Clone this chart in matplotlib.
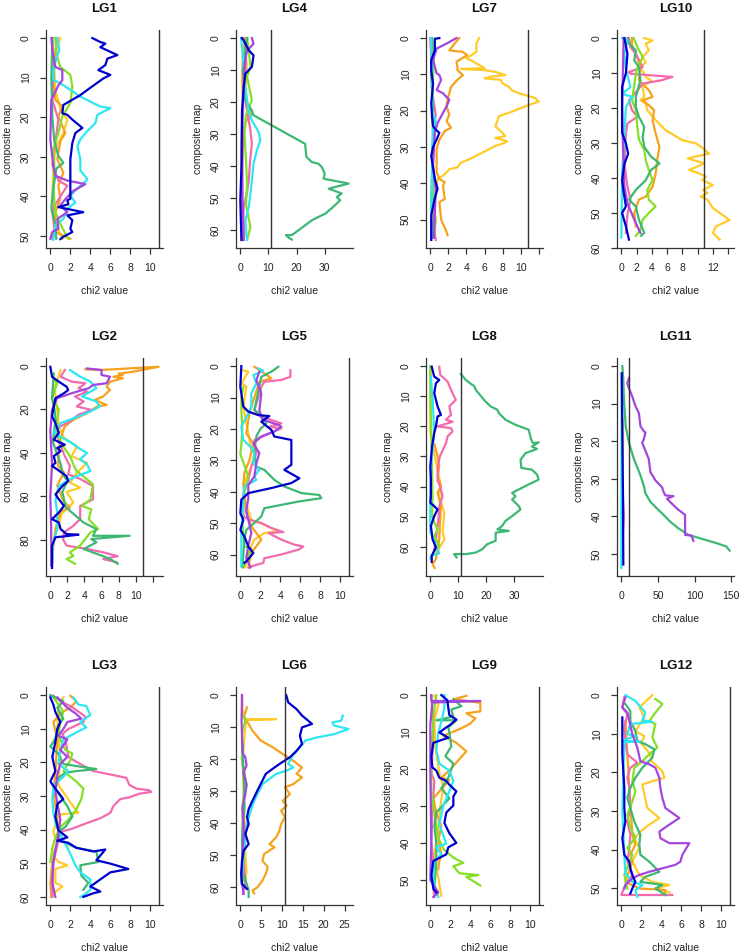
import numpy as np
import matplotlib
matplotlib.use("Agg")
import matplotlib.pyplot as plt

plt.rcParams["font.family"] = ["Liberation Sans", "DejaVu Sans"]
plt.rcParams["font.stretch"] = "normal"

THRESHOLD = 10.83

COLORS = {
    "blue": "#0000CD", "cyan": "#2EE6F2", "seagreen": "#3DB873", "pink": "#F26BAE",
    "orange": "#F5A21E", "gold": "#FFCB2A", "purple": "#A446DE", "lime": "#84E025",
}
DRAW_ORDER = ["gold", "orange", "pink", "lime", "seagreen", "cyan", "purple", "blue"]

# each line: (map position, chi2 value)
# ---- LG1
lg1_blue = [(0, 4.2), (1, 5.0), (1.4, 5.5), (2.3, 5.0), (4.3, 6.7), (5.2, 5.7), (6.8, 5.5), (8.1, 4.8),
            (9.3, 6.0), (10.2, 5.3), (13.1, 3.7), (14.4, 3.0), (16.9, 1.3), (19.0, 1.2), (19.4, 1.7),
            (20.6, 2.2), (22.7, 3.2), (24.0, 2.5), (26.5, 2.2), (30.6, 2.0), (35.6, 2.0), (40.6, 2.0),
            (41.0, 1.7), (42.0, 1.8), (42.7, 0.8), (44.0, 3.3), (44.8, 1.7), (46.0, 2.2), (48.2, 2.0),
            (49.0, 2.2), (50.2, 1.3), (50.8, 1.0)]
lg1_cyan = [(0, 0.7), (3, 0.9), (6, 0.5), (8.5, 0.3), (10.5, 0.3), (11.9, 1.3), (14.8, 3.0), (17.3, 5.0),
            (17.7, 6.0), (19.4, 4.7), (21.5, 4.5), (23.5, 3.7), (25.6, 3.0), (27.3, 2.7), (30.6, 3.0),
            (33.5, 3.0), (35.6, 3.7), (36.0, 3.6), (37.3, 3.0), (39.8, 2.0), (41.5, 2.5), (43.2, 1.7),
            (45.7, 1.3), (47.3, 0.5), (49.0, 0.4), (51.0, 0.3)]
lg1_purple = [(0, 0.1), (3, 0.2), (7.3, 0.5), (8.1, 1.2), (10.6, 1.2), (12, 0.8), (15.6, 0.1), (25.6, 0.0),
              (32.3, 0.3), (34.8, 0.5), (36, 1.7), (36.9, 3.5), (38.6, 2.3), (40.7, 1.5), (42.3, 1.0),
              (44, 1.7), (45.7, 0.7), (48.2, 0.8), (49, 0.2), (50.7, 0.0)]
lg1_lime = [(0, 0.5), (4, 0.6), (7.3, 1.0), (9.3, 2.0), (12.3, 2.2), (16.4, 2.0), (19.8, 1.2), (24, 0.8),
            (28.1, 0.3), (32, 0.4), (38, 0.3), (44, 0.5), (48, 1.2), (50.7, 1.8)]
lg1_orange = [(0, 0.7), (5, 0.4), (11.4, 0.3), (15.6, 0.5), (17.3, 1.2), (19.8, 0.8), (24, 1.5), (26, 1.0),
              (30.6, 0.7), (34, 1.3), (37.3, 0.8), (40.6, 1.0), (44, 0.5), (49, 0.5), (50.7, 2.0)]
lg1_gold = [(0, 1.0), (3, 0.6), (8, 0.4), (13, 0.5), (18, 1.0), (20.6, 1.7), (24, 1.3), (28, 0.5),
            (33, 0.3), (40, 0.2), (46, 0.4), (50.7, 1.2)]
lg1_pink = [(0, 0.2), (7.3, 0.3), (15.6, 0.2), (20.6, 0.8), (26.5, 0.5), (32, 0.2), (36, 0.8), (37.3, 1.7),
            (40, 1.0), (42.5, 0.4), (44, 0.2), (48, 0.4), (50.7, 0.2)]
lg1_seagreen = [(0, 0.2), (10, 0.1), (20, 0.2), (26, 0.4), (29.8, 0.8), (31.5, 1.3), (33, 0.6), (38, 0.3),
                (43, 0.1), (47, 0.5), (50.7, 0.6)]

# ---- LG4
lg4_seagreen = [(0, 2.5), (5, 1.5), (10, 0.8), (15, 1.5), (19.4, 1.8), (22.6, 4.1), (24.1, 4.7), (33, 23.0),
                (37.1, 23.5), (38.7, 25.4), (39.2, 27.7), (40.2, 28.9), (42.3, 30.0), (43.9, 29.6),
                (45.4, 38.5), (47, 31.4), (48.5, 36.0), (49.6, 34.3), (50.6, 35.5), (52.7, 33.0),
                (54.8, 30.2), (55.8, 27.8), (56.9, 25.4), (61.5, 18.3), (61.5, 16.2), (62.3, 17.2), (62.9, 18.3)]
lg4_cyan = [(0, 0.3), (5, 0.8), (9, 1.2), (14, 1.5), (19.4, 2.4), (22.6, 3.0), (25.7, 4.1), (29.3, 6.5),
            (31.9, 7.1), (35, 5.9), (39.2, 4.7), (44.4, 4.1), (48.5, 3.6), (52.7, 3.0), (56.9, 1.8), (60, 2.0),
            (63, 2.4)]
lg4_pink = [(0, 1.2), (4, 2.0), (9, 1.8), (14, 1.2), (18, 1.5), (22.6, 2.4), (28.8, 3.6), (33, 4.1), (38, 3.5),
            (44.4, 3.0), (48, 2.4), (52.7, 1.2), (57, 1.0), (63, 1.2)]
lg4_blue = [(0, 0.5), (0.7, 1.2), (3.8, 3.0), (5.4, 4.7), (9, 4.1), (11.1, 1.8), (15.3, 1.2), (22.6, 0.6),
            (30, 0.5), (40.2, 0.4), (50.6, 0.0), (57, 0.2), (63, 0.4)]
lg4_lime = [(0, 2.4), (4, 3.0), (9, 3.6), (12, 2.4), (19.4, 4.1), (24, 2.0), (30, 1.5), (38, 2.0), (45, 2.4),
            (52, 2.0), (59, 3.6), (63, 2.4)]
lg4_purple = [(0, 4.1), (1.8, 4.7), (3.9, 2.4), (8, 1.5), (14, 1.2), (25, 0.8), (40, 0.7), (50, 0.8), (63, 1.2)]
lg4_orange = [(0, 2.0), (3, 1.5), (8, 2.2), (15, 1.8), (20, 2.3), (24, 4.0), (26, 2.0), (30, 1.0), (40, 0.6),
              (55, 0.5), (63, 0.6)]
lg4_gold = [(0, 1.6), (6, 0.8), (14, 0.6), (22, 1.0), (30, 0.5), (45, 0.3), (63, 0.4)]

# ---- LG7
lg7_gold = [(0, 5.4), (1.5, 5.1), (3.8, 5.1), (5.6, 4.0), (6.1, 4.5), (8.3, 6.0), (8.5, 3.4), (8.8, 5.9),
            (9.3, 7.2), (10.2, 8.3), (10.6, 6.7), (11.1, 6.0), (11.5, 7.8), (12.5, 8.0), (13.4, 8.7),
            (14.3, 9.0), (15.2, 9.8), (16.5, 11.6), (17.5, 12.0), (18.8, 10.5), (20.6, 8.7), (21.5, 7.6),
            (24.3, 7.2), (26.1, 8.0), (27.0, 8.3), (27.5, 7.2), (28.4, 8.5), (28.8, 8.3), (29.7, 7.2),
            (31.5, 5.8), (33.4, 4.3), (34.3, 3.4), (35.6, 3.0), (36.1, 2.1), (37.0, 1.8), (37.9, 1.4),
            (38.8, 0.8), (42, 0.6), (46, 0.5), (50, 0.5), (54, 0.4)]
lg7_orange = [(0, 3.2), (1.5, 2.7), (3.4, 2.1), (3.8, 3.6), (4.7, 4.1), (6.5, 2.9), (7.9, 3.0), (8.8, 3.0),
              (10.2, 3.6), (11.5, 3.0), (13.4, 2.3), (17, 1.9), (18.8, 1.8), (21.1, 2.1), (22.9, 1.8),
              (24.7, 2.3), (25.6, 1.6), (28, 1.0), (30.6, 0.7), (37, 0.7), (38.8, 1.0), (39.7, 1.6),
              (40.6, 1.4), (44.3, 1.6), (45.2, 1.0), (50, 1.2), (53.4, 1.8), (54.3, 1.9)]
lg7_purple = [(0, 2.9), (1.5, 1.8), (2.9, 0.7), (6, 0.3), (9.7, 0.7), (10.2, 1.0), (11.5, 1.2), (14.3, 0.7),
              (15.2, 1.4), (17, 2.1), (18.8, 1.8), (20.6, 1.4), (23.4, 0.8), (26, 0.5), (35, 0.3), (42, 0.6),
              (48, 0.5), (55, 0.4)]
lg7_blue = [(0, 1.0), (0.2, 0.5), (3.4, 0.5), (6.1, 0.1), (9, 0.1), (12.5, 0.3), (18, 0.1), (22, 0.2),
            (24.3, 0.3), (25.2, 0.6), (26.1, 1.0), (27.9, 0.7), (30, 0.3), (32.5, 0.1), (38.8, 0.5),
            (41.5, 0.8), (44, 0.5), (48.8, 0.1), (55.6, 0.1)]
lg7_cyan = [(0, 0.1), (10, 0.2), (20, 0.2), (23, 0.6), (25, 0.3), (30, 0.2), (40, 0.2), (50, 0.1), (55.6, 0.1)]
lg7_lime = [(0, 0.2), (5, 0.4), (12, 0.3), (20, 0.2), (28, 0.3), (35, 0.2), (45, 0.3), (50, 0.6), (55, 0.4)]
lg7_pink = [(0, 0.0), (5, 0.1), (15, 0.2), (21, 0.6), (25, 0.4), (35, 0.2), (45, 0.3), (52, 0.4), (55.6, 0.6)]
lg7_seagreen = [(0, 0.2), (10, 0.1), (20, 0.3), (27, 0.4), (35, 0.2), (45, 0.1), (55, 0.2)]

# ---- LG10
lg10_gold = [(0, 3.0), (0.7, 4.1), (1.6, 3.2), (3.5, 3.6), (5.4, 2.8), (7, 3.2), (8.3, 2.5), (11.1, 3.2),
             (12.1, 3.9), (14, 2.8), (16.8, 3.0), (17.8, 2.5), (18.7, 3.2), (20.6, 3.4), (23.5, 4.5),
             (26.3, 5.8), (29.2, 8.0), (30.1, 9.8), (31.5, 10.7), (33, 11.5), (34.4, 8.7), (35.8, 10.9),
             (37.7, 8.9), (38.7, 10.2), (39.6, 11.1), (40.6, 10.6), (42, 12.0), (43.4, 10.7), (44.3, 11.3),
             (45.3, 10.4), (46.2, 11.3), (48.6, 12.0), (50, 12.9), (52, 14.2), (53.8, 12.4), (55.7, 12.0),
             (57.6, 12.9)]
lg10_orange = [(0, 1.4), (2.1, 1.4), (5, 2.0), (8.3, 2.5), (12, 2.3), (14.9, 3.6), (16.8, 4.1), (17.8, 2.8),
               (19.2, 3.6), (20.6, 4.3), (23.5, 4.1), (27.3, 4.5), (31.1, 5.0), (34.9, 4.7), (38.7, 4.5),
               (42.5, 4.1), (45.3, 3.2), (46.2, 2.3), (50, 1.7), (53.8, 1.9)]
lg10_seagreen = [(0, 0.8), (1.6, 1.0), (3.5, 1.9), (6.4, 1.7), (8.3, 2.3), (12.1, 2.5), (16.8, 1.9),
                 (19.7, 1.9), (22.5, 2.3), (25.4, 3.0), (28.3, 2.8), (31.1, 3.0), (33.9, 3.9), (35.8, 5.0),
                 (37.7, 3.9), (40.6, 3.2), (43.4, 1.9), (46.2, 1.0), (48.1, 1.9), (51.9, 2.3), (55.7, 3.0),
                 (56.5, 2.6)]
lg10_lime = [(0, 1.6), (3, 2.2), (5.4, 2.8), (9, 2.0), (12, 1.8), (17.8, 1.4), (20.6, 1.9), (25.4, 2.1),
             (29, 2.3), (32, 3.0), (34.9, 3.2), (37.7, 3.6), (40.6, 4.1), (43.4, 3.4), (46.2, 3.6), (48.1, 4.5),
             (50, 3.6), (51.9, 2.8), (54.8, 2.5), (56.5, 1.9)]
lg10_pink = [(0, 1.0), (2.6, 1.2), (4.5, 1.9), (8.3, 2.8), (9.7, 1.0), (10.2, 1.2), (11.1, 6.7), (12.1, 5.2),
             (13, 2.8), (15, 2.1), (17.8, 1.0), (20.6, 1.4), (22.5, 2.1), (24.4, 0.8), (27.3, 0.6), (36, 0.4),
             (42.5, 0.8), (46.2, 1.2), (50.5, 0.8), (55.7, 0.6)]
lg10_purple = [(0, 0.3), (10, 0.2), (20, 0.1), (30, 0.2), (42.5, 0.4), (47.2, 0.8), (51.9, 1.7), (55.7, 2.5)]
lg10_blue = [(0, 0.4), (4.5, 0.8), (10, 0.6), (14, 0.1), (27, 0.1), (30.1, 0.6), (33, 0.9), (36, 0.4),
             (40.6, 0.1), (44, 0.3), (48.1, 0.6), (50, 0.1), (53.8, 0.6), (57.6, 1.0)]
lg10_cyan = [(0, 0.1), (0.7, 0.8), (4.5, 0.4), (9, 0.6), (14, 1.2), (15.9, 0.1), (16.8, 1.4), (19.7, 0.6),
             (27.3, 0.4), (38.7, 0.1), (57, 0.0)]

# ---- LG2
lg2_orange = [(1.5, 4.1), (1.8, 6.0), (0.3, 12.7), (2.6, 9.7), (3.5, 8.0), (4.1, 8.5), (4.9, 7.4), (5.6, 8.5),
              (7.2, 7.0), (9.5, 6.6), (11, 7.0), (14, 6.2), (15.6, 5.2), (17.9, 6.6), (18.6, 5.5), (21.7, 4.3),
              (24.7, 2.7), (27.8, 1.7), (33, 1.2), (40, 1.0), (46, 0.9), (49, 1.6), (55, 0.8), (62, 1.5),
              (65.2, 2.3), (67, 1.2), (75, 0.6), (85, 0.3), (92, 0.2)]
lg2_purple = [(1.1, 4.3), (1.8, 6.0), (4.1, 6.0), (4.9, 7.0), (7.9, 6.6), (8.7, 5.0), (10.2, 4.5), (12.5, 2.5),
              (14.8, 0.8), (20.2, 0.2), (30, 0.0), (45, 0.2), (60, 0.0), (75, 0.1), (92, 0.1)]
lg2_pink = [(1.8, 1.7), (4.9, 1.2), (7.2, 2.5), (7.9, 4.1), (10.2, 3.3), (11.8, 4.3), (14, 2.9), (16.3, 3.9),
            (18.6, 3.1), (20.2, 4.8), (22.4, 3.3), (25.5, 2.3), (28.5, 0.8), (35, 1.0), (41.5, 1.7), (46.1, 2.3),
            (49.9, 2.1), (52, 3.5), (55.3, 5.0), (61.4, 5.0), (64.4, 3.5), (70.5, 3.5), (73.6, 2.7),
            (76.6, 1.6), (80, 1.5), (82.7, 1.9), (84.3, 4.3), (85.8, 6.2), (87.6, 7.9), (88.9, 6.2), (90.4, 7.8)]
lg2_cyan = [(1.8, 2.3), (4.9, 3.5), (7.2, 4.7), (10.2, 5.4), (14, 3.7), (16.3, 5.4), (18.6, 5.8), (20.9, 4.7),
            (23.2, 3.3), (26.3, 1.2), (30.8, 0.4), (35.4, 2.5), (38, 3.4), (40, 4.3), (43, 3.5), (45.3, 4.3),
            (48.4, 4.7), (50.7, 3.1), (53, 1.9), (55.3, 1.0), (62, 0.6), (67, 0.8), (75, 0.8), (82, 0.3),
            (92, 0.2)]
lg2_gold = [(1.8, 1.2), (10, 0.5), (20, 0.8), (28, 1.0), (33, 1.6), (37, 3.1), (41.5, 2.5), (44.6, 4.3),
            (49.2, 3.1), (53.7, 2.3), (56, 3.5), (58, 1.9), (62.9, 2.7), (67.6, 1.4), (75, 0.8), (80, 0.4)]
lg2_lime = [(4.9, 0.2), (7.9, 0.8), (15, 0.2), (20, 1.0), (30, 0.6), (37, 1.5), (41.5, 2.3), (48, 3.0),
            (54.5, 5.0), (61.4, 4.7), (64.4, 3.7), (66, 4.8), (70.5, 4.5), (75.1, 5.6), (76.6, 4.7),
            (82.7, 3.5), (85.8, 2.3), (87.5, 2.7), (88.9, 1.9), (91.1, 2.9)]
lg2_seagreen = [(3.4, 0.4), (15, 0.2), (20, 0.5), (25, 0.6), (35, 0.3), (45, 1.2), (50, 1.5), (53, 2.0),
                (58, 1.4), (65, 1.8), (72.1, 3.9), (75.1, 5.4), (78.2, 5.0), (78.2, 9.3), (79.7, 4.8),
                (81.2, 5.4), (84.3, 3.9), (87.3, 6.0), (88.9, 7.0), (91.1, 7.9)]
lg2_blue = [(0.3, 0.0), (4.9, 0.2), (7.2, 1.0), (9.5, 1.9), (11, 2.1), (12.5, 1.6), (14.8, 0.6), (18.6, 0.4),
            (23.2, 0.2), (26.3, 0.6), (30.8, 1.0), (33.9, 0.4), (36.2, 1.7), (37.7, 0.8), (39.2, 1.2),
            (41.5, 0.4), (44.6, 0.6), (46, 0.2), (47.6, 0.8), (50.7, 1.9), (53, 2.1), (55.3, 1.4), (59.1, 0.6),
            (61.4, 1.0), (64.4, 1.6), (67.5, 1.0), (70.5, 0.2), (72.1, 1.0), (75.1, 1.2), (77.4, 1.9),
            (77.7, 3.3), (78.9, 0.6), (82.7, 0.2), (93, 0.2)]

# ---- LG5
lg5_blue = [(0, 0.1), (6.6, 0.0), (12.9, 0.3), (14.5, 0.8), (15.6, 1.8), (15.9, 2.9), (17.7, 2.1), (20.3, 3.1),
            (22.4, 3.4), (23.5, 5.1), (31.4, 5.1), (33, 4.4), (35.7, 5.9), (37.2, 5.1), (38.8, 3.1),
            (40.4, 0.8), (42.5, 0.1), (46.8, 0.0), (48.9, 0.3), (52.1, 0.0), (54.2, 0.4), (57.4, 0.8),
            (59.5, 1.3), (62.1, 0.6), (62.6, 0.4)]
lg5_seagreen = [(0.2, 3.8), (1.8, 3.1), (3.4, 2.1), (8, 1.8), (14, 1.4), (15.6, 2.1), (18.2, 2.6), (20, 2.0),
                (22.4, 1.6), (27, 1.4), (32, 1.6), (33, 2.4), (36.2, 3.4), (38.3, 4.4), (40.4, 6.1), (41, 7.9),
                (42, 8.1), (43.1, 5.8), (45.2, 2.4), (47.8, 2.1), (49.9, 1.4), (52.1, 0.6), (55.2, 0.4),
                (60, 0.3), (64, 0.2)]
lg5_pink = [(1.3, 5.0), (3.4, 5.0), (4.4, 4.1), (5, 2.4), (6.6, 2.1), (10, 1.8), (14, 1.4), (16, 2.0),
            (18.2, 4.1), (19.3, 2.9), (19.8, 4.1), (21.4, 2.9), (23.5, 1.4), (27.7, 1.6), (32, 1.1), (36.2, 0.8),
            (40.4, 0.3), (47.8, 0.3), (48.9, 0.9), (49.9, 2.1), (51.5, 3.1), (52.8, 4.3), (53.1, 2.8),
            (55.2, 4.1), (56.8, 5.4), (57.4, 6.3), (58.4, 5.8), (60, 4.0), (61.1, 2.4), (62.6, 2.3),
            (63.7, 1.1), (64.2, 0.9)]
lg5_purple = [(1.8, 1.9), (4.5, 1.6), (8.7, 2.1), (14, 1.9), (17, 2.2), (18.7, 3.8), (19.3, 4.1), (20.8, 3.4),
              (22.4, 2.1), (24.6, 1.3), (27.7, 1.9), (30.9, 1.6), (35.1, 1.4), (37.8, 0.8), (42, 0.8), (46, 0.6),
              (53.1, 1.1), (57, 0.8), (61, 0.6), (64, 1.0)]
lg5_cyan = [(0.7, 1.8), (1.5, 2.3), (2.9, 1.3), (5.5, 1.6), (8.7, 1.1), (12.9, 1.1), (15, 0.8), (19.3, 0.1),
            (23.5, 0.3), (26, 1.1), (27.7, 1.4), (30.9, 1.3), (33, 1.9), (35.1, 1.4), (36.2, 1.6), (38.3, 0.4),
            (42, 0.3), (53.1, 0.1), (63.7, 0.1)]
lg5_gold = [(1.3, 0.3), (1.8, 0.8), (5.5, 0.1), (6.5, 0.6), (13, 0.3), (21.4, 0.8), (26.7, 1.1), (27.7, 1.4),
            (32, 1.1), (37, 0.4), (42, 0.4), (48.9, 1.1), (51, 2.8), (52.6, 3.8), (53.1, 2.4), (55.2, 1.4),
            (59.4, 0.8), (64, 0.5)]
lg5_orange = [(0.2, 1.4), (3.9, 3.1), (5, 1.9), (10, 1.4), (15, 0.9), (21.4, 0.6), (24.6, 1.3), (30, 0.9),
              (34, 0.4), (38, 0.3), (46.8, 0.6), (51, 1.1), (55.2, 2.1), (59.4, 1.1), (64, 0.8)]
lg5_lime = [(6.6, 0.3), (10, 0.1), (14, 0.1), (20, 0.2), (25, 0.1), (28, 0.0), (35, 0.8), (42, 0.3), (50, 0.2),
            (57.4, 0.4), (58, 1.1), (64, 0.3)]

# ---- LG8
lg8_seagreen = [(2.6, 10.9), (4.6, 12.7), (5.9, 14.5), (6.6, 15.7), (7.9, 16.3), (11.2, 19.2), (13.4, 21.6),
                (14.5, 24.0), (15.6, 24.5), (17.8, 26.9), (19.5, 30.5), (21.1, 35.2), (24.4, 36.1),
                (25.6, 36.8), (25.3, 38.8), (26.7, 36.4), (27.5, 38.2), (28.9, 34.1), (31.1, 32.3),
                (33.8, 32.6), (34.4, 36.4), (36, 38.2), (37.7, 38.8), (39.3, 35.2), (41.5, 30.5), (42.1, 29.3),
                (43.2, 30.5), (44.3, 29.3), (46.5, 31.7), (47.6, 32.3), (49.8, 29.3), (51.4, 26.9), (53.1, 25.7),
                (54.2, 24.0), (54.7, 28.1), (55.3, 23.4), (58, 23.4), (59.1, 20.4), (60.8, 18.6), (61.9, 16.3),
                (62.4, 12.7), (62.4, 8.5), (63.5, 9.4)]
lg8_pink = [(0.2, 3.2), (3, 3.6), (4.1, 5.0), (5.2, 6.2), (7.9, 7.4), (11.2, 9.1), (13.4, 6.8), (16.2, 7.4),
            (17.8, 5.6), (18.5, 8.0), (19.5, 4.4), (20, 2.6), (20.6, 7.4), (21.7, 8.0), (23.3, 6.2), (25.6, 5.6),
            (30, 3.4), (34, 2.6), (38, 2.6), (40, 3.5), (43.2, 4.4), (46.5, 3.2), (50, 3.0), (53.1, 2.6),
            (57.5, 2.0), (61, 1.4)]
lg8_blue = [(0.2, 0.5), (3.5, 1.4), (4.6, 3.2), (5.7, 2.0), (9, 1.4), (13.4, 2.6), (16.2, 3.8), (16.7, 2.6),
            (20, 2.0), (22.2, 1.4), (26.7, 0.6), (33.3, 0.0), (37.7, 0.2), (43.2, 0.2), (45.4, 0.0), (46.5, 1.4),
            (47.6, 2.6), (49.8, 1.4), (53.1, 0.2), (57.5, 0.8), (60.2, 2.0), (63, 0.5), (65, 0.5)]
lg8_orange = [(26, 1.5), (30, 2.6), (33.3, 3.2), (36.5, 2.6), (39.9, 3.8), (42, 2.6), (46.5, 3.8), (53.1, 3.4),
              (57.5, 3.2), (61, 2.6), (64.1, 2.0), (65.7, 0.8), (67, 1.5)]
lg8_gold = [(0, 0.2), (5.7, 0.0), (22, 0.0), (29, 1.4), (39.9, 3.8), (43.2, 3.2), (48.7, 5.0), (55, 4.4),
            (57.5, 5.0), (61.5, 2.6), (62.5, 2.0)]
lg8_cyan = [(3.5, 0.2), (11, 0.8), (22, 1.4), (33, 0.2), (44, 0.0), (55, 0.0), (62.2, 3.2), (63, 0.2), (64, 0.1)]
lg8_lime = [(0, 0.0), (11, 0.1), (29, 0.5), (44, 0.8), (50, 0.6), (54.2, 2.6), (56.4, 1.4), (59.5, 3.2), (62, 1.0)]

# ---- LG11
lg11_purple = [(3.2, 10.4), (4.6, 8.1), (5.9, 10.4), (8.1, 14.9), (10.7, 19.4), (12.5, 23.9), (16, 26.1),
               (17.3, 30.6), (17.7, 32.9), (19.5, 30.6), (20.4, 28.4), (24.7, 37.4), (28.2, 39.6), (30.4, 46.4),
               (32.2, 55.4), (33.5, 57.7), (34.4, 59.9), (34.6, 71.2), (35.3, 62.2), (37.9, 75.7), (39.6, 86.9),
               (44.9, 86.9), (45.1, 95.9), (46.5, 98.2)]
lg11_seagreen = [(0, 1.4), (3.7, 2.7), (8.9, 3.6), (16, 5.9), (20.4, 10.4), (24.7, 17.1), (29.1, 26.1),
                 (31.8, 30.6), (33.9, 32.9), (36.1, 39.6), (37.9, 48.6), (39.6, 57.7), (41.4, 66.7), (43.2, 77.9),
                 (44.9, 91.4), (45.8, 107.0), (47.1, 129.7), (48, 143.2), (49.1, 147.7)]
lg11_blue = [(1.9, 0.5), (17.7, 1.4), (35.3, 2.3), (52.8, 2.7)]
lg11_cyan = [(3, 0.5), (20, 0.3), (40, 0.1), (53.7, 0.0)]
lg11_gold = [(14, 2.0), (20, 2.5), (28, 1.5), (32, 2.0)]
lg11_pink = [(30, 1.0), (40, 3.5), (45, 2.0)]

# ---- LG3
lg3_pink = [(0.2, 0.3), (1.8, 1.0), (3.3, 2.0), (4.9, 2.8), (6.4, 3.5), (8, 3.3), (10.1, 1.8), (11.6, 1.2),
            (13.2, 1.5), (18.4, 1.8), (20.5, 3.0), (22.6, 4.3), (23.6, 6.0), (24.6, 7.6), (26.7, 7.9),
            (27.8, 8.6), (28.3, 9.9), (28.8, 10.1), (29.3, 8.9), (30.4, 7.9), (30.9, 7.0), (33, 6.3), (35, 6.0),
            (36.6, 5.0), (38.1, 3.6), (39.7, 2.2), (40.7, 1.0), (44.4, 0.7), (49.6, 0.3), (54.8, 0.2), (60, 0.2)]
lg3_blue = [(0.7, 0.0), (2.8, 0.3), (5, 0.5), (8, 1.0), (10.1, 0.7), (14, 0.5), (18.4, 0.2), (22.6, 0.5),
            (25.7, 0.0), (27.8, 0.5), (30.9, 1.3), (32.4, 0.7), (36.1, 0.5), (40.2, 0.8), (42.3, 1.7),
            (43.3, 0.7), (43.9, 1.8), (45.4, 2.6), (46.5, 4.3), (45.9, 5.5), (49.1, 4.6), (50.1, 6.0),
            (51.7, 7.8), (52.7, 6.0), (54.8, 5.0), (56.9, 4.0), (58.4, 5.0), (58.9, 4.3), (60, 3.3)]
lg3_cyan = [(0.7, 2.3), (2.8, 2.8), (3.3, 3.6), (5.9, 4.0), (8, 3.0), (9.6, 3.6), (11.1, 2.6), (13.2, 1.3),
            (16.3, 1.0), (20.5, 0.8), (22.6, 1.8), (24.6, 1.2), (26.7, 0.3), (30.9, 0.2), (35, 0.3), (39, 0.6),
            (41.3, 1.0), (45.4, 1.7), (48.5, 2.2), (50.6, 2.5), (52.7, 3.0), (54.8, 4.0), (57.9, 4.0),
            (59.5, 3.3), (60, 3.0)]
lg3_seagreen = [(0, 0.0), (1.8, 1.3), (3.8, 0.7), (7, 1.3), (9, 0.8), (13, 0.5), (15.3, 0.0), (17.4, 0.8),
                (20.5, 1.3), (22, 4.6), (22.6, 2.6), (23.1, 1.5), (24.6, 0.8), (28, 0.5), (33, 1.7), (36.1, 2.2),
                (39.2, 1.5), (40.2, 1.0), (43, 0.8), (45.4, 2.6), (46.5, 4.6), (49.6, 4.8), (50.6, 3.0),
                (53.7, 3.1), (55.8, 3.8), (57.9, 3.3)]
lg3_lime = [(0.7, 0.3), (4.9, 1.3), (8, 1.0), (12, 0.8), (16.3, 1.5), (17.4, 2.2), (19.4, 2.0), (22.6, 1.3),
            (25.7, 2.6), (27.8, 3.3), (30.9, 3.1), (34, 2.6), (37.1, 1.8), (39.2, 1.0), (42.3, 0.5), (45.4, 0.2),
            (49.6, 0.0)]
lg3_gold = [(0.7, 1.3), (3.8, 0.8), (10.1, 0.7), (18.4, 1.0), (26.7, 0.8), (31.9, 2.0), (35, 2.8), (35.5, 0.8),
            (40.7, 0.3), (44, 0.7), (47.5, 0.2), (49.6, 0.8), (50.6, 1.7), (51.7, 0.5), (55.8, 0.5), (56.9, 1.2),
            (59, 0.3), (60, 0.1)]
lg3_orange = [(0.2, 2.0), (1.8, 2.6), (3.8, 2.0), (5, 1.2), (8, 0.3), (13, 0.7), (23.6, 0.5), (28.8, 0.3),
              (39.2, 0.8), (44.4, 0.7), (49.6, 0.2), (55.8, 0.0), (60, 0.1)]
lg3_purple = [(0.7, 0.7), (3.8, 1.7), (5.4, 2.5), (7, 3.1), (8, 1.7), (10.1, 1.3), (12.1, 0.8), (13.2, 1.7),
              (16.3, 1.0), (18.4, 1.7), (20.5, 1.0), (23.6, 0.7), (28.8, 0.5), (37, 1.0), (41.3, 0.8), (49.6, 0.3),
              (55.8, 0.2), (60, 0.5)]

# ---- LG6
lg6_blue = [(0, 11.0), (2.3, 11.5), (4.4, 13.5), (6.4, 14.8), (9, 17.2), (10.1, 14.8), (12.7, 14.3),
            (15.3, 14.8), (17.4, 13.5), (19.4, 11.9), (21.5, 9.4), (22.6, 8.2), (24.6, 6.1), (26.7, 5.3),
            (29.8, 4.1), (33, 2.9), (35.6, 2.0), (38.1, 1.6), (40.2, 2.0), (43.3, 1.2), (46.5, 2.0), (48.5, 0.8),
            (51.7, 0.4), (55.8, 0.2), (58.9, 0.4), (60, 1.2), (60.5, 1.6)]
lg6_cyan = [(6.4, 24.6), (8, 24.2), (8.5, 22.1), (9.5, 22.5), (10.6, 26.0), (12.2, 22.5), (13.2, 18.4),
            (14.2, 15.6), (16, 14.5), (19, 12.5), (21.5, 11.5), (22.6, 12.7), (23.6, 11.1), (24.6, 8.6),
            (27.8, 5.3), (30.9, 4.1), (34, 3.0), (40, 1.6), (45, 1.2), (49.6, 0.8), (55, 0.5), (59, 0.3)]
lg6_orange = [(3.8, 1.6), (7, 0.8), (9, 2.0), (11.1, 2.9), (14.2, 4.9), (16.3, 7.8), (18.4, 10.2), (20.5, 12.7),
              (22.6, 14.8), (24.6, 13.5), (25.7, 14.8), (27.8, 12.7), (28.8, 10.7), (30.9, 11.9), (33, 10.2),
              (34.5, 11.1), (36.1, 9.8), (38.1, 10.7), (40.2, 9.8), (42.3, 9.4), (44.4, 8.6), (46.5, 7.0),
              (47.5, 8.2), (49.6, 5.7), (51.7, 5.3), (53.7, 6.6), (55.8, 6.1), (57.9, 5.3), (60, 4.1), (61, 2.9),
              (61.9, 3.3)]
lg6_gold = [(0, 0.4), (5, 0.6), (7.5, 1.2), (7.5, 8.6), (7.8, 1.6), (10, 1.2), (20, 0.6), (30, 0.8), (40, 1.0),
            (49.6, 1.2), (55, 1.5), (60, 1.0)]
lg6_purple = [(0, 0.4), (8, 0.3), (18, 0.5), (19.4, 1.2), (22, 1.5), (24, 0.8), (28, 1.5), (30.9, 1.2),
              (35, 0.5), (43, 0.8), (50, 0.5), (58, 0.3), (62, 0.8)]
lg6_lime = [(6, 0.4), (7, 1.0), (8, 1.2), (11, 0.5), (20, 0.4), (28, 1.5), (33, 0.6), (42, 0.5), (50, 0.8),
            (58, 0.6)]
lg6_seagreen = [(15, 0.5), (25, 0.8), (35, 1.0), (45, 0.4), (55, 0.6), (61, 2.0), (63, 2.0)]
lg6_pink = [(20, 0.4), (28, 1.0), (36, 0.6), (44, 1.2), (50, 0.8), (55, 1.0), (58.9, 1.2), (62, 0.6)]

# ---- LG9
lg9_blue = [(0, 1.1), (1.4, 1.7), (3.5, 1.8), (5.4, 1.9), (6.6, 2.6), (8, 2.0), (9.1, 1.4), (10.1, 0.9),
            (11.5, 1.8), (12.9, 0.3), (16.6, 0.1), (19.5, 0.2), (20.4, 0.6), (22.3, 0.9), (23.2, 1.6),
            (24.2, 1.9), (26, 2.6), (27.4, 2.3), (29.8, 2.3), (31.7, 1.6), (34.5, 1.4), (37.3, 1.9), (39.9, 2.6),
            (41.1, 1.8), (43, 1.6), (44.8, 0.3), (48.6, 0.1), (52.3, 0.3), (53.3, 0.6)]
lg9_orange = [(0.2, 3.6), (1.1, 2.4), (2.1, 5.0), (4.4, 5.0), (4.9, 3.6), (6.3, 4.5), (7.7, 4.0), (9.1, 3.0),
              (11, 1.3), (12.9, 2.6), (15.2, 3.6), (17.6, 2.8), (20.4, 1.9), (22.3, 1.1), (23, 1.9), (26, 0.9),
              (27.9, 0.3), (31.7, 0.6), (35.4, 1.1), (39.2, 0.8), (43, 1.1), (44.8, 0.9), (47, 0.8)]
lg9_purple = [(0, 0.1), (1.6, 0.1), (1.6, 5.0), (2, 0.2), (8, 0.0), (20, 0.0), (30, 0.05), (40, 0.1), (50, 0.0),
              (53.3, 0.8), (54.5, 0.3)]
lg9_seagreen = [(1.1, 2.3), (3, 3.1), (3.9, 2.1), (5.8, 2.3), (6.8, 0.6), (6.8, 2.6), (8.7, 1.8), (10.1, 1.9),
                (13.8, 2.1), (16.5, 1.5), (18.5, 2.3), (22.3, 1.8), (25.1, 1.1), (27.9, 1.9), (31.7, 0.6),
                (35.4, 0.4), (40.1, 0.6), (45, 0.6), (52, 0.4)]
lg9_lime = [(0, 0.6), (3.5, 0.4), (7.2, 0.3), (16.6, 0.1), (26, 0.1), (35.4, 0.6), (39.2, 0.9), (41.5, 1.3),
            (43.9, 2.3), (45.3, 3.3), (46.2, 2.3), (48.1, 2.9), (48.6, 4.8), (49.1, 3.6), (51.4, 5.0)]
lg9_cyan = [(0, 1.4), (3.5, 1.4), (7.2, 1.1), (10.1, 0.8), (14.8, 0.6), (18.5, 0.9), (20.4, 1.9), (23.2, 2.3),
            (26, 1.9), (29.8, 1.3), (35, 0.9), (40.1, 1.6), (41.1, 0.6), (43, 1.1), (44.8, 0.4), (49.6, 0.3),
            (53.3, 0.6), (54.5, 0.8)]
lg9_pink = [(0.2, 0.1), (7, 0.3), (16.6, 0.2), (21, 0.1), (23.2, 0.4), (31.7, 0.2), (40, 0.1), (44.8, 0.3),
            (52, 0.3), (54.5, 0.4)]
lg9_gold = [(0.2, 0.4), (2.5, 0.8), (7, 0.4), (14, 0.5), (21, 0.9), (25, 1.3), (28, 1.1), (35.4, 0.8),
            (39.2, 0.6), (43, 0.4), (54.2, 1.1)]

# ---- LG12
lg12_purple = [(0.6, 0.4), (3.2, 0.1), (4.5, 0.6), (6.7, 0.8), (10.1, 1.1), (13.6, 1.6), (17.1, 1.9),
               (17.9, 2.8), (18.8, 3.4), (21.4, 3.8), (24, 3.9), (26.6, 4.1), (29.2, 4.4), (31.8, 5.8),
               (33.5, 4.8), (35.3, 3.8), (37, 3.9), (38.3, 4.8), (38.3, 6.8), (41.3, 6.1), (43.1, 5.9),
               (43.9, 5.4), (44.8, 4.1), (45.7, 2.8), (46.5, 1.8), (47.4, 1.1), (49.1, 0.4), (50, 0.3)]
lg12_gold = [(0, 3.1), (3.2, 1.8), (5.8, 2.3), (9.3, 1.4), (10.6, 2.3), (12.5, 2.0), (15.3, 2.9), (17, 3.0),
             (19.7, 4.1), (21.4, 4.3), (22.3, 3.1), (23.1, 2.1), (25.7, 2.3), (29.2, 2.6), (31.8, 3.8),
             (33.5, 2.8), (35.3, 1.9), (37, 1.3), (39.5, 1.8), (43.1, 1.1), (46.5, 1.8), (48.3, 3.1),
             (49.1, 4.8), (50, 3.4), (51, 4.8)]
lg12_lime = [(1, 3.4), (2.3, 4.1), (4.9, 3.3), (6.7, 2.8), (7.5, 3.4), (11, 3.1), (13.6, 3.6), (15.3, 2.8),
             (17.1, 2.1), (18.8, 1.3), (22.3, 1.1), (24.9, 1.4), (27.5, 1.1), (30.9, 0.6), (34.4, 0.9),
             (36.9, 1.4), (39.5, 0.6), (41.3, 1.1), (46.4, 0.3), (50, 0.6)]
lg12_seagreen = [(2.3, 0.4), (4.1, 0.9), (6.7, 0.9), (9.3, 1.4), (11.9, 1.6), (12.7, 2.4), (14, 3.3),
                 (16.2, 3.1), (18.8, 2.1), (21.4, 1.4), (24, 0.9), (26.6, 0.6), (32.7, 1.3), (36.1, 1.9),
                 (38.7, 1.8), (41.3, 1.9), (43.1, 2.8), (45.7, 3.8), (47, 2.4), (48.3, 1.9), (49.1, 4.1),
                 (50, 3.4), (51.7, 4.4)]
lg12_cyan = [(0, 0.4), (1.5, 1.4), (4.5, 2.4), (6.5, 2.1), (6.9, 3.1), (7.5, 0.9), (10.1, 0.6), (10.5, 1.4),
             (11.9, 0.1), (11.9, 1.9), (12.2, 0.3), (20, 0.2), (30, 0.1), (41.3, 0.3), (46, 0.4), (48.3, 1.1),
             (49.1, 2.1), (50.5, 1.4), (52.2, 1.6)]
lg12_pink = [(0.6, 0.3), (3.2, 0.1), (5, 0.6), (8.5, 0.3), (11.9, 0.4), (15.3, 0.6), (17.5, 1.6), (18.8, 0.9),
             (21.4, 0.6), (24, 0.8), (29.2, 0.9), (32.7, 0.6), (36.1, 0.9), (39.5, 0.8), (43.1, 0.6), (46.5, 1.1),
             (49.1, 0.4), (51.7, 0.0), (51.7, 5.1)]
lg12_orange = [(6.7, 0.4), (15.3, 0.6), (24, 0.8), (36.1, 1.1), (38.7, 1.4), (41.3, 0.9), (43.1, 1.1),
               (48.3, 0.4), (50, 1.8), (50.4, 4.4), (51.7, 4.4)]
lg12_blue = [(5.8, 0.1), (15.3, 0.1), (24, 0.3), (29.2, 0.3), (32.7, 0.4), (37, 0.1), (41.3, 0.3), (43.1, 0.8),
             (44.8, 0.9), (46.5, 1.1), (48.3, 1.4), (50, 1.1), (51.3, 0.9)]

TEN_STEP = [0, 2, 4, 6, 8, 10]
PANELS = [
    ("LG1", {"blue": lg1_blue, "cyan": lg1_cyan, "purple": lg1_purple, "lime": lg1_lime, "orange": lg1_orange,
             "gold": lg1_gold, "pink": lg1_pink, "seagreen": lg1_seagreen},
     TEN_STEP, None, [0, 10, 20, 30, 40, 50]),
    ("LG4", {"seagreen": lg4_seagreen, "cyan": lg4_cyan, "pink": lg4_pink, "blue": lg4_blue, "lime": lg4_lime,
             "purple": lg4_purple, "orange": lg4_orange, "gold": lg4_gold},
     [0, 10, 20, 30], None, [0, 10, 20, 30, 40, 50, 60]),
    ("LG7", {"gold": lg7_gold, "orange": lg7_orange, "purple": lg7_purple, "blue": lg7_blue, "cyan": lg7_cyan,
             "lime": lg7_lime, "pink": lg7_pink, "seagreen": lg7_seagreen},
     [0, 2, 4, 6, 8, 10, 12], ["0", "2", "4", "6", "8", "10", ""], [0, 10, 20, 30, 40, 50]),
    ("LG10", {"gold": lg10_gold, "orange": lg10_orange, "seagreen": lg10_seagreen, "lime": lg10_lime,
              "pink": lg10_pink, "purple": lg10_purple, "blue": lg10_blue, "cyan": lg10_cyan},
     [0, 2, 4, 6, 8, 10, 12, 14], ["0", "2", "4", "6", "8", "", "12", ""], [0, 10, 20, 30, 40, 50, 60]),
    ("LG2", {"orange": lg2_orange, "purple": lg2_purple, "pink": lg2_pink, "cyan": lg2_cyan, "gold": lg2_gold,
             "lime": lg2_lime, "seagreen": lg2_seagreen, "blue": lg2_blue},
     [0, 2, 4, 6, 8, 10, 12], ["0", "2", "4", "6", "8", "10", ""], [0, 20, 40, 60, 80]),
    ("LG5", {"blue": lg5_blue, "seagreen": lg5_seagreen, "pink": lg5_pink, "purple": lg5_purple,
             "cyan": lg5_cyan, "gold": lg5_gold, "orange": lg5_orange, "lime": lg5_lime},
     TEN_STEP, None, [0, 10, 20, 30, 40, 50, 60]),
    ("LG8", {"seagreen": lg8_seagreen, "pink": lg8_pink, "blue": lg8_blue, "orange": lg8_orange,
             "gold": lg8_gold, "cyan": lg8_cyan, "lime": lg8_lime},
     [0, 10, 20, 30], None, [0, 10, 20, 30, 40, 50, 60]),
    ("LG11", {"purple": lg11_purple, "seagreen": lg11_seagreen, "blue": lg11_blue, "cyan": lg11_cyan,
              "gold": lg11_gold, "pink": lg11_pink},
     [0, 50, 100, 150], None, [0, 10, 20, 30, 40, 50]),
    ("LG3", {"pink": lg3_pink, "blue": lg3_blue, "cyan": lg3_cyan, "seagreen": lg3_seagreen, "lime": lg3_lime,
             "gold": lg3_gold, "orange": lg3_orange, "purple": lg3_purple},
     TEN_STEP, None, [0, 10, 20, 30, 40, 50, 60]),
    ("LG6", {"blue": lg6_blue, "cyan": lg6_cyan, "orange": lg6_orange, "gold": lg6_gold, "purple": lg6_purple,
             "lime": lg6_lime, "seagreen": lg6_seagreen, "pink": lg6_pink},
     [0, 5, 10, 15, 20, 25], None, [0, 10, 20, 30, 40, 50, 60]),
    ("LG9", {"blue": lg9_blue, "orange": lg9_orange, "purple": lg9_purple, "seagreen": lg9_seagreen,
             "lime": lg9_lime, "cyan": lg9_cyan, "pink": lg9_pink, "gold": lg9_gold},
     TEN_STEP, None, [0, 10, 20, 30, 40, 50]),
    ("LG12", {"purple": lg12_purple, "gold": lg12_gold, "lime": lg12_lime, "seagreen": lg12_seagreen,
              "cyan": lg12_cyan, "pink": lg12_pink, "orange": lg12_orange, "blue": lg12_blue},
     TEN_STEP, None, [0, 10, 20, 30, 40, 50]),
]

W, H = 740, 952
COL_LEFT = [46, 236, 426, 617]
ROW_TOP = [30, 358, 687]
AX_W, AX_H = 117, 218
AXIS_COLOR = "#333333"
TEXT_COLOR = "#222222"


def draw_panel(ax, title, lines, xticks, xlabels, yticks):
    pos_max = max(max(p for p, _ in pts) for pts in lines.values())
    chi_max = max(THRESHOLD, max(max(c for _, c in pts) for pts in lines.values()))
    for name in DRAW_ORDER:
        if name not in lines:
            continue
        arr = np.array(lines[name], dtype=float)
        ax.plot(arr[:, 1], arr[:, 0], color=COLORS[name], lw=1.6, solid_joinstyle="round")
    ax.axvline(THRESHOLD, color=AXIS_COLOR, lw=1.0)

    # R-style 4% padding, map position reversed
    ax.set_xlim(-0.04 * chi_max, chi_max * 1.04)
    ax.set_ylim(pos_max * 1.04, -0.04 * pos_max)

    for side in ("top", "right"):
        ax.spines[side].set_visible(False)
    for side in ("left", "bottom"):
        ax.spines[side].set_color(AXIS_COLOR)
        ax.spines[side].set_linewidth(0.9)

    ax.set_xticks(xticks)
    ax.set_xticklabels(xlabels if xlabels else [str(t) for t in xticks])
    ax.set_yticks(yticks)
    ax.set_yticklabels([str(t) for t in yticks], rotation=90, va="center")
    ax.tick_params(length=4, width=0.9, color=AXIS_COLOR, labelsize=7.5, pad=7, labelcolor=TEXT_COLOR)

    ax.set_xlabel("chi2 value", fontsize=7.5, color=TEXT_COLOR, va="center")
    ax.set_ylabel("composite map", fontsize=7.5, color=TEXT_COLOR, va="center")
    ax.xaxis.set_label_coords(0.5, -43 / AX_H)
    ax.yaxis.set_label_coords(-38 / AX_W, 0.5)
    ax.text(0.5, 1 + 21 / AX_H, title, transform=ax.transAxes, ha="center", va="center",
            fontsize=9.5, fontweight="bold", color="#111111")


fig = plt.figure(figsize=(W / 100, H / 100), dpi=100)
for i, (title, lines, xticks, xlabels, yticks) in enumerate(PANELS):
    r, c = divmod(i, 4)
    left = COL_LEFT[c] / W
    bottom = 1 - (ROW_TOP[r] + AX_H) / H
    ax = fig.add_axes([left, bottom, AX_W / W, AX_H / H])
    draw_panel(ax, title, lines, xticks, xlabels, yticks)

fig.savefig("out.png", dpi=100)
